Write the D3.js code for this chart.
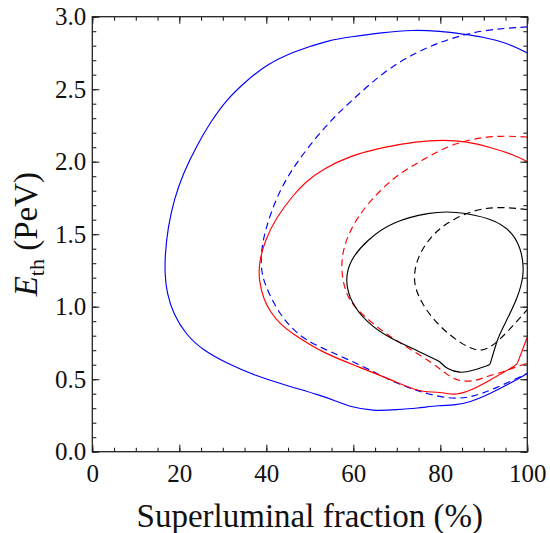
<!DOCTYPE html>
<html>
<head>
<meta charset="utf-8">
<script src="https://cdn.jsdelivr.net/npm/d3@7"></script>
<style>
  body { margin: 0; background: #fff; }
  text { font-family: "Liberation Serif", "Times New Roman", serif; fill: #111; }
</style>
</head>
<body>
<div id="chart"></div>
<script>
// [fraction %, E_th PeV]; repeated points keep the small kinks
const blueSolid = [[100,2.75],[100,2.75],[95.3,2.82],[89.9,2.86],[85.3,2.88],[79.9,2.90],[73.8,2.91],[66.5,2.89],[59.2,2.86],
  [54.7,2.84],[46.2,2.76],[40.1,2.67],[35.5,2.56],[30.9,2.43],[27.1,2.27],[24.0,2.11],[20.9,1.92],[18.8,1.74],
  [17.4,1.55],[16.7,1.35],[16.7,1.22],[17.1,1.10],[18.6,0.95],[21.7,0.80],[25.5,0.70],[30.9,0.61],[37.8,0.52],[45.4,0.45],
  [52.3,0.39],[56.0,0.35],[59.2,0.31],[64.6,0.28],[70.0,0.29],[74.6,0.30],[79.9,0.32],[83.0,0.32],[86.8,0.34],
  [91.4,0.40],[96.0,0.47],[100,0.54],[100,0.54]];
const blueDashed = [[100,2.93],[100,2.93],[89.9,2.91],[82.2,2.85],[74.6,2.76],[66.9,2.62],[59.2,2.41],[53.9,2.26],[46.2,1.97],
  [42.4,1.76],[39.7,1.53],[38.7,1.36],[38.9,1.24],[39.7,1.15],[42.4,0.98],[45.5,0.86],[49.0,0.77],[53.9,0.70],[62.3,0.59],
  [68.4,0.49],[73.8,0.43],[76.9,0.40],[83.0,0.36],[87.6,0.38],[92.2,0.43],[100,0.54],[100,0.54]];
const redSolid = [[100,2.00],[100,2.00],[96.8,2.05],[91.4,2.10],[86.1,2.14],[80.7,2.15],[74.6,2.14],[66.9,2.10],[59.2,2.04],
  [53.0,1.95],[49.0,1.86],[46.2,1.77],[42.4,1.62],[39.7,1.46],[38.3,1.30],[38.3,1.18],[39.4,1.05],[41.0,0.96],[43.2,0.88],
  [46.2,0.81],[53.1,0.68],[60.8,0.59],[70.0,0.48],[75.3,0.41],[80.0,0.41],[80.0,0.41],[83.0,0.39],[86.1,0.41],[90.7,0.48],
  [97.6,0.60],[97.6,0.60],[100,0.79],[100,0.79]];
const redDashed = [[100,2.17],[100,2.17],[93.7,2.18],[87.6,2.16],[82.0,2.11],[77.6,2.04],[73.5,1.97],[69.2,1.89],[63.1,1.71],
  [59.2,1.53],[57.5,1.38],[57.2,1.24],[58.2,1.10],[60.0,1.00],[66.1,0.84],[72.3,0.72],[78.4,0.61],[81.5,0.53],
  [84.5,0.48],[88.4,0.49],[90.7,0.52],[94.5,0.55],[96.8,0.58],[100,0.61],[100,0.61]];
const blackSolid = [[83.0,1.66],[92.2,1.61],[96.8,1.51],[98.9,1.37],[99.3,1.21],[97.6,1.05],[95.3,0.91],[93.3,0.79],
  [92.6,0.72],[91.4,0.60],[91.4,0.60],[87.6,0.56],[84.5,0.54],[81.5,0.57],[79.9,0.62],[79.9,0.62],[75.3,0.69],[68.4,0.78],[63.1,0.89],
  [59.4,1.03],[58.1,1.18],[59.2,1.32],[63.1,1.46],[69.2,1.59],[77.6,1.65]];
const blackDashed = [[100,1.67],[100,1.67],[93.7,1.69],[87.6,1.67],[81.5,1.58],[77.6,1.48],[74.5,1.33],[73.6,1.16],[76.1,1.00],
  [79.9,0.86],[84.5,0.75],[88.4,0.69],[91.4,0.71],[95.3,0.82],[100,0.98],[100,0.98]];

const xTicks = [0, 20, 40, 60, 80, 100];
const yTicks = [0, 0.5, 1.0, 1.5, 2.0, 2.5, 3.0];

const series = [
  {pts: blueSolid, color: "#0000ff", dash: null, closed: false},
  {pts: blueDashed, color: "#0000ff", dash: "7,4.5", closed: false},
  {pts: redSolid, color: "#ff0000", dash: null, closed: false},
  {pts: redDashed, color: "#ff0000", dash: "7,4.5", closed: false},
  {pts: blackSolid, color: "#000000", dash: null, closed: true},
  {pts: blackDashed, color: "#000000", dash: "7,4.5", closed: false}
];

const W = 550, H = 533;
const m = {left: 92.3, top: 16.7};
const pw = 435, ph = 435;
const serif = "'Liberation Serif', 'Times New Roman', serif";

const svg = d3.select("#chart").append("svg")
    .attr("width", W)
    .attr("height", H);

const x = d3.scaleLinear().domain([0, 100]).range([0, pw]);
const y = d3.scaleLinear().domain([0, 3]).range([ph, 0]);

const g = svg.append("g").attr("transform", `translate(${m.left},${m.top})`);

g.append("clipPath").attr("id", "clip")
  .append("rect").attr("width", pw).attr("height", ph);

const line = d3.line().x(d => x(d[0])).y(d => y(d[1])).curve(d3.curveBasis);
const closedLine = d3.line().x(d => x(d[0])).y(d => y(d[1])).curve(d3.curveBasisClosed);

g.append("g").attr("clip-path", "url(#clip)")
  .selectAll("path").data(series).join("path")
    .attr("d", s => (s.closed ? closedLine : line)(s.pts))
    .attr("fill", "none")
    .attr("stroke", s => s.color)
    .attr("stroke-width", 1.15)
    .attr("stroke-dasharray", s => s.dash);

// axes: ticks inward on all four sides
const xMinor = d3.range(0, 100.1, 5);
const yMinor = d3.range(0, 3.01, 0.1);

const addAxis = (axis, tr) => {
  const a = g.append("g").attr("transform", tr).call(axis);
  a.select(".domain").remove();
  a.selectAll("line").attr("stroke", "#222").attr("stroke-width", 1.1);
  return a;
};

addAxis(d3.axisBottom(x).tickValues(xMinor).tickSize(-4).tickFormat(""), `translate(0,${ph})`);
addAxis(d3.axisTop(x).tickValues(xMinor).tickSize(-4).tickFormat(""), "translate(0,0)");
addAxis(d3.axisLeft(y).tickValues(yMinor).tickSize(-4).tickFormat(""), "translate(0,0)");
addAxis(d3.axisRight(y).tickValues(yMinor).tickSize(-4).tickFormat(""), `translate(${pw},0)`);

const xa = addAxis(d3.axisBottom(x).tickValues(xTicks).tickSize(-7).tickPadding(13).tickFormat(d3.format("d")), `translate(0,${ph})`);
addAxis(d3.axisTop(x).tickValues(xTicks).tickSize(-7).tickFormat(""), "translate(0,0)");
const ya = addAxis(d3.axisLeft(y).tickValues(yTicks).tickSize(-7).tickPadding(6).tickFormat(d3.format(".1f")), "translate(0,0)");
addAxis(d3.axisRight(y).tickValues(yTicks).tickSize(-7).tickFormat(""), `translate(${pw},0)`);

[xa, ya].forEach(a => {
  a.attr("font-family", null);
  a.selectAll("text")
    .style("font-family", serif)
    .attr("font-size", 25)
    .attr("fill", "#111");
});

g.append("rect")
  .attr("width", pw).attr("height", ph)
  .attr("fill", "none").attr("stroke", "#222").attr("stroke-width", 1.3);

svg.append("text")
  .attr("x", m.left + pw / 2).attr("y", 527)
  .attr("text-anchor", "middle")
  .style("font-family", serif)
  .attr("font-size", 33)
  .text("Superluminal fraction (%)");

const yl = svg.append("text")
  .attr("transform", `translate(37,${m.top + ph / 2}) rotate(-90)`)
  .attr("text-anchor", "middle")
  .style("font-family", serif)
  .attr("font-size", 33);
yl.append("tspan").attr("font-style", "italic").text("E");
yl.append("tspan").attr("font-size", 22).attr("dy", 7).text("th");
yl.append("tspan").attr("dy", -7).text(" (PeV)");
</script>
</body>
</html>
